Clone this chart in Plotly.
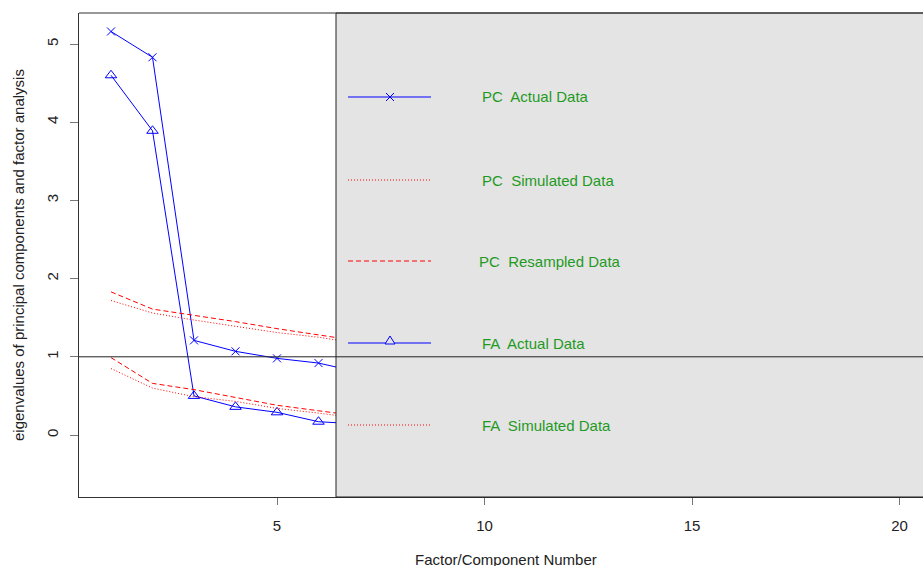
import plotly.graph_objects as go

# ---- data (points beyond ~6.4 are hidden by the legend box) ----
factor_number = list(range(1, 21))
pc_actual = [5.16, 4.83, 1.21, 1.07, 0.98, 0.92, 0.80, 0.74, 0.68, 0.62, 0.57, 0.52, 0.48, 0.44, 0.40, 0.36, 0.32, 0.28, 0.24, 0.19]
fa_actual = [4.60, 3.89, 0.50, 0.36, 0.29, 0.17, 0.14, 0.11, 0.08, 0.05, 0.03, 0.01, -0.01, -0.03, -0.05, -0.07, -0.09, -0.11, -0.14, -0.17]
pc_simulated = [1.72, 1.56, 1.47, 1.39, 1.31, 1.25, 1.17, 1.12, 1.07, 1.02, 0.97, 0.92, 0.88, 0.84, 0.80, 0.76, 0.72, 0.68, 0.64, 0.59]
pc_resampled = [1.83, 1.61, 1.53, 1.45, 1.36, 1.28, 1.20, 1.14, 1.09, 1.04, 0.99, 0.94, 0.89, 0.85, 0.81, 0.77, 0.73, 0.69, 0.65, 0.60]
fa_simulated = [0.85, 0.60, 0.49, 0.43, 0.34, 0.28, 0.21, 0.17, 0.13, 0.09, 0.06, 0.03, 0.00, -0.03, -0.06, -0.09, -0.12, -0.15, -0.18, -0.22]
fa_resampled = [0.99, 0.66, 0.58, 0.48, 0.38, 0.31, 0.24, 0.19, 0.15, 0.11, 0.08, 0.05, 0.02, -0.01, -0.04, -0.07, -0.10, -0.13, -0.16, -0.20]

legend_labels = ["PC  Actual Data", "PC  Simulated Data", "PC  Resampled Data",
                 "FA  Actual Data", "FA  Simulated Data"]
x_ticks = [5, 10, 15, 20]
y_ticks = [0, 1, 2, 3, 4, 5]

BLUE = "#0000ff"
RED = "#ff0000"
GREEN = "#1f9a1f"
FONT = "Liberation Sans, Arial, sans-serif"
DOT = "1px,2px"
DASH = "5px,3px"

fig = go.Figure()
fig.add_trace(go.Scatter(x=factor_number, y=pc_actual, mode="lines+markers",
                         line=dict(color=BLUE, width=1),
                         marker=dict(symbol="x-thin", size=8, line=dict(color=BLUE, width=1))))
fig.add_trace(go.Scatter(x=factor_number, y=fa_actual, mode="lines+markers",
                         line=dict(color=BLUE, width=1),
                         marker=dict(symbol="triangle-up-open", size=10, color=BLUE, line=dict(width=1))))
fig.add_trace(go.Scatter(x=factor_number, y=pc_simulated, mode="lines", line=dict(color=RED, width=1, dash=DOT)))
fig.add_trace(go.Scatter(x=factor_number, y=pc_resampled, mode="lines", line=dict(color=RED, width=1, dash=DASH)))
fig.add_trace(go.Scatter(x=factor_number, y=fa_simulated, mode="lines", line=dict(color=RED, width=1, dash=DOT)))
fig.add_trace(go.Scatter(x=factor_number, y=fa_resampled, mode="lines", line=dict(color=RED, width=1, dash=DASH)))

W, H = 923, 566
ML, MT, MB = 79, 13, H - 497
PW, PH = W - ML, H - MT - MB

def px_x(p):  # window pixel -> paper
    return (p - ML) / PW

def px_y(p):
    return (MT + PH - p) / PH

shapes = []
# legend box (clipped by plot region in the original)
shapes.append(dict(type="rect", xref="paper", yref="paper", x0=px_x(336), x1=1.01, y0=0, y1=1,
                   fillcolor="#e4e4e4", line=dict(color="#222", width=1), layer="above"))
# abline at 1
shapes.append(dict(type="line", xref="paper", yref="y", x0=0, x1=1, y0=1, y1=1,
                   line=dict(color="#222", width=1), layer="above"))
# top frame line
shapes.append(dict(type="line", xref="paper", yref="paper", x0=0, x1=1, y0=1, y1=1,
                   line=dict(color="#333", width=1), layer="above"))

key_y = [97, 180, 261, 343, 425]
key_styles = [("solid", BLUE), (DOT, RED), (DASH, RED), ("solid", BLUE), (DOT, RED)]
annotations = []
for lab, yy, (dsh, col) in zip(legend_labels, key_y, key_styles):
    shapes.append(dict(type="line", xref="paper", yref="paper", x0=px_x(348), x1=px_x(431),
                       y0=px_y(yy), y1=px_y(yy), line=dict(color=col, width=1, dash=dsh), layer="above"))
    xoff = 477 if "Resampled" in lab else 480
    annotations.append(dict(text=lab, xref="paper", yref="paper", x=px_x(xoff), y=px_y(yy),
                            xanchor="left", yanchor="middle", showarrow=False,
                            font=dict(family=FONT, size=15, color=GREEN)))

# legend key glyphs
cx = px_x(390)
for (a, b) in ((-4, 4), (4, -4)):
    shapes.append(dict(type="line", xref="paper", yref="paper", xsizemode="pixel", ysizemode="pixel",
                       xanchor=cx, yanchor=px_y(key_y[0]), x0=-4, x1=4, y0=a, y1=b,
                       line=dict(color=BLUE, width=1), layer="above"))
shapes.append(dict(type="path", xref="paper", yref="paper", xsizemode="pixel", ysizemode="pixel",
                   xanchor=cx, yanchor=px_y(key_y[3]), path="M -5 -1 L 5 -1 L 0 7 Z",
                   fillcolor="#e4e4e4", line=dict(color=BLUE, width=1), layer="above"))

# axis titles
annotations.append(dict(text="Factor/Component Number", xref="paper", yref="paper",
                        x=px_x(506), y=px_y(559), xanchor="center", yanchor="middle", showarrow=False,
                        font=dict(family=FONT, size=15, color="#222")))
annotations.append(dict(text="eigenvalues of principal components and factor analysis", xref="paper", yref="paper",
                        x=px_x(18), y=px_y(255), xanchor="center", yanchor="middle", textangle=-90, showarrow=False,
                        font=dict(family=FONT, size=15, color="#222")))

# axis ranges from measured pixel positions of ticks (x: 1 at 111px, 41.5px/unit; y: 0 at 435px, 78.2px/unit)
x_lo = 1 + (79 - 111) / 41.5
x_hi = 1 + (W - 111) / 41.5
y_lo = -(497 - 435) / 78.2
y_hi = (435 - 13) / 78.2

fig.update_layout(
    width=W, height=H,
    margin=dict(l=ML, r=0, t=MT, b=MB, pad=0),
    paper_bgcolor="white", plot_bgcolor="white",
    showlegend=False,
    shapes=shapes, annotations=annotations,
    font=dict(family=FONT, size=15, color="#222"),
    xaxis=dict(range=[x_lo, x_hi], tickvals=x_ticks, ticktext=[str(v) for v in x_ticks],
               showgrid=False, zeroline=False, showline=True, linecolor="#333", linewidth=1,
               ticks="outside", ticklen=7, tickcolor="#777", tickwidth=1,
               ticklabelstandoff=8),
    yaxis=dict(range=[y_lo, y_hi], tickvals=y_ticks, ticktext=[str(v) for v in y_ticks],
               showgrid=False, zeroline=False, showline=True, linecolor="#333", linewidth=1,
               ticks="outside", ticklen=8, tickcolor="#777", tickwidth=1, tickangle=-90,
               ticklabelstandoff=6),
)

fig.write_html("out.html",
               config={"displayModeBar": False},
               post_script="document.body.style.margin='0px';document.body.style.overflow='hidden';"
                           "document.documentElement.style.overflow='hidden';")
